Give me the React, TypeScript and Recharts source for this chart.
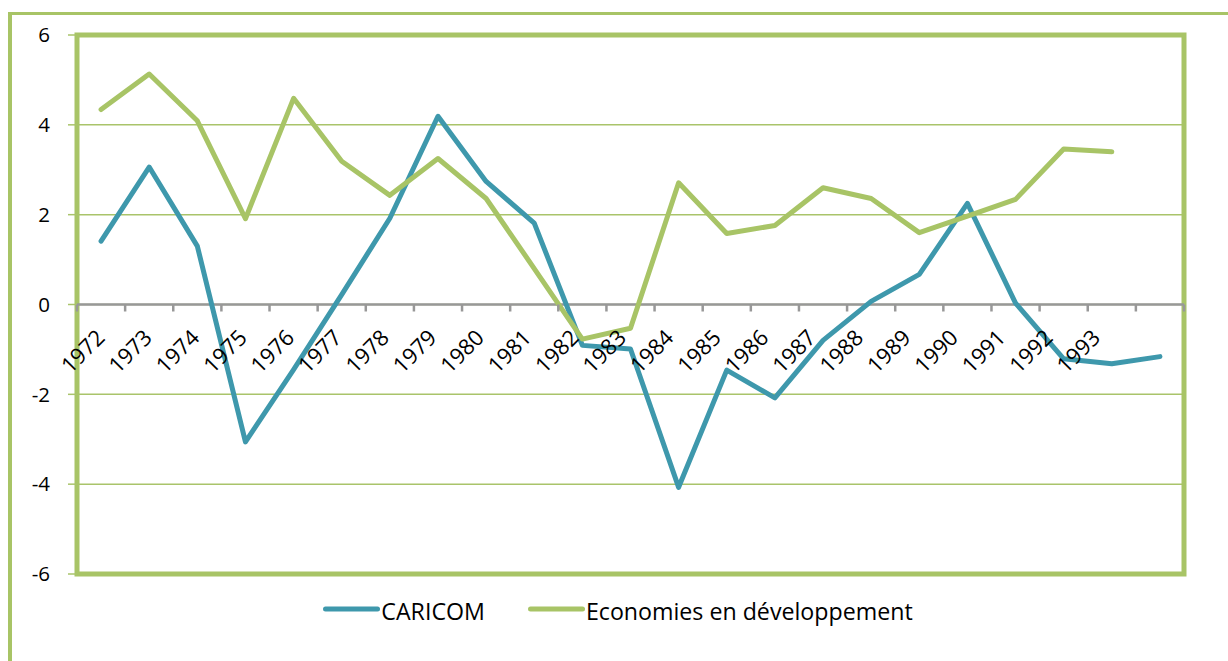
import React from 'react';
import {
  LineChart,
  Line,
  XAxis,
  YAxis,
  CartesianGrid,
  ReferenceLine,
  ReferenceArea,
  Legend,
} from 'recharts';

// ---- data ----
const years = [
  '1972', '1973', '1974', '1975', '1976', '1977', '1978', '1979', '1980', '1981', '1982',
  '1983', '1984', '1985', '1986', '1987', '1988', '1989', '1990', '1991', '1992', '1993', '',
];
const caricom = [
  1.41, 3.06, 1.3, -3.06, -1.45, 0.22, 1.92, 4.19, 2.74, 1.81, -0.91, -0.99, -4.07, -1.46,
  -2.08, -0.8, 0.07, 0.67, 2.25, 0.03, -1.21, -1.32, -1.16,
];
const economies: (number | null)[] = [
  4.34, 5.13, 4.09, 1.91, 4.59, 3.19, 2.43, 3.25, 2.36, 0.8, -0.77, -0.53, 2.71, 1.58, 1.76,
  2.6, 2.36, 1.6, 1.97, 2.34, 3.46, 3.4, null,
];
const yTicks = [-6, -4, -2, 0, 2, 4, 6];
const seriesNames = ['CARICOM', 'Economies en développement'];

const data = years.map((year, i) => ({
  year,
  caricom: caricom[i],
  economies: economies[i],
}));

// ---- layout / style ----
const W = 1228;
const H = 661;
const FONT = '"Open Sans", "Noto Sans", sans-serif';
const TEAL = '#3E98AC';
const GREEN = '#A8C466';
const GRID = '#A9C46A';
const AXIS_GRAY = '#989898';

const YAXIS_W = 60;
const XAXIS_H = 30;
const LEGEND_H = 30;
const M = { top: 35, right: 44, bottom: 27, left: 17 };
const PLOT_L = M.left + YAXIS_W;
const PLOT_W = W - PLOT_L - M.right;
const PLOT_H = H - M.top - M.bottom - XAXIS_H - LEGEND_H;
const Y_MIN = -6;
const Y_MAX = 6;
const ZERO_Y = M.top + (PLOT_H * (Y_MAX - 0)) / (Y_MAX - Y_MIN);
const BAND = PLOT_W / years.length;

const XTick = (props: any) => {
  const { x, payload, index } = props;
  const half = BAND / 2;
  const lx = x + 5 - 0.72 * index;
  const ly = ZERO_Y + 34.5;
  return (
    <g>
      <line x1={x - half} x2={x - half} y1={ZERO_Y} y2={ZERO_Y + 7} stroke={AXIS_GRAY} strokeWidth={2.5} />
      {index === years.length - 1 && (
        <line x1={x + half} x2={x + half} y1={ZERO_Y} y2={ZERO_Y + 7} stroke={AXIS_GRAY} strokeWidth={2.5} />
      )}
      {payload.value ? (
        <text
          x={lx}
          y={ly}
          transform={`rotate(-45 ${lx} ${ly})`}
          textAnchor="end"
          fontSize={22}
          fontFamily={FONT}
          fill="#000"
        >
          {payload.value}
        </text>
      ) : null}
    </g>
  );
};

const renderLegend = (props: any) => {
  const payload = props.payload || [];
  return (
    <div
      style={{
        display: 'flex',
        justifyContent: 'center',
        alignItems: 'center',
        height: LEGEND_H,
        marginLeft: 8,
        fontFamily: FONT,
        fontSize: 23.2,
        color: '#000',
      }}
    >
      {payload.map((p: any, i: number) => (
        <div key={i} style={{ display: 'flex', alignItems: 'center', marginLeft: i ? 43 : 0 }}>
          <svg width={57} height={10} style={{ position: 'relative', top: -2 }}>
            <line x1={2.5} y1={5} x2={54.5} y2={5} stroke={p.color} strokeWidth={5} strokeLinecap="round" />
          </svg>
          <span style={{ marginLeft: 1, lineHeight: `${LEGEND_H}px`, whiteSpace: 'nowrap' }}>{p.value}</span>
        </div>
      ))}
    </div>
  );
};

export default function App() {
  return (
    <div style={{ position: 'fixed', left: 0, top: 0, width: W, height: H, overflow: 'hidden', background: '#fff' }}>
      <div
        style={{
          position: 'absolute',
          left: 8,
          top: 12,
          width: W,
          height: H,
          borderLeft: `4px solid ${GREEN}`,
          borderTop: `3px solid ${GREEN}`,
          boxSizing: 'border-box',
        }}
      />
      <div style={{ position: 'absolute', left: 0, top: 0 }}>
        <LineChart width={W} height={H} data={data} margin={M}>
          <CartesianGrid horizontal vertical={false} stroke={GRID} strokeWidth={1.5} />
          <XAxis
            dataKey="year"
            type="category"
            scale="band"
            interval={0}
            height={XAXIS_H}
            axisLine={false}
            tickLine={false}
            tick={<XTick />}
          />
          <YAxis
            domain={[Y_MIN, Y_MAX]}
            ticks={yTicks}
            width={YAXIS_W}
            axisLine={false}
            tickLine={{ stroke: GRID, strokeWidth: 1.5 }}
            tickSize={9}
            tickMargin={18}
            tick={{ fontSize: 20.5, fontFamily: FONT, fill: '#000' }}
          />
          <ReferenceLine y={0} stroke={AXIS_GRAY} strokeWidth={2.5} />
          <Line
            type="linear"
            dataKey="caricom"
            name={seriesNames[0]}
            stroke={TEAL}
            strokeWidth={5}
            strokeLinecap="round"
            strokeLinejoin="round"
            dot={false}
            activeDot={false}
            isAnimationActive={false}
          />
          <Line
            type="linear"
            dataKey="economies"
            name={seriesNames[1]}
            stroke={GREEN}
            strokeWidth={5}
            strokeLinecap="round"
            strokeLinejoin="round"
            dot={false}
            activeDot={false}
            isAnimationActive={false}
          />
          <ReferenceArea y1={Y_MIN} y2={Y_MAX} fill="none" stroke={GREEN} strokeWidth={5} ifOverflow="visible" />
          <Legend
            verticalAlign="bottom"
            content={renderLegend}
            wrapperStyle={{ left: 0, width: W, bottom: 35 }}
          />
        </LineChart>
      </div>
    </div>
  );
}
